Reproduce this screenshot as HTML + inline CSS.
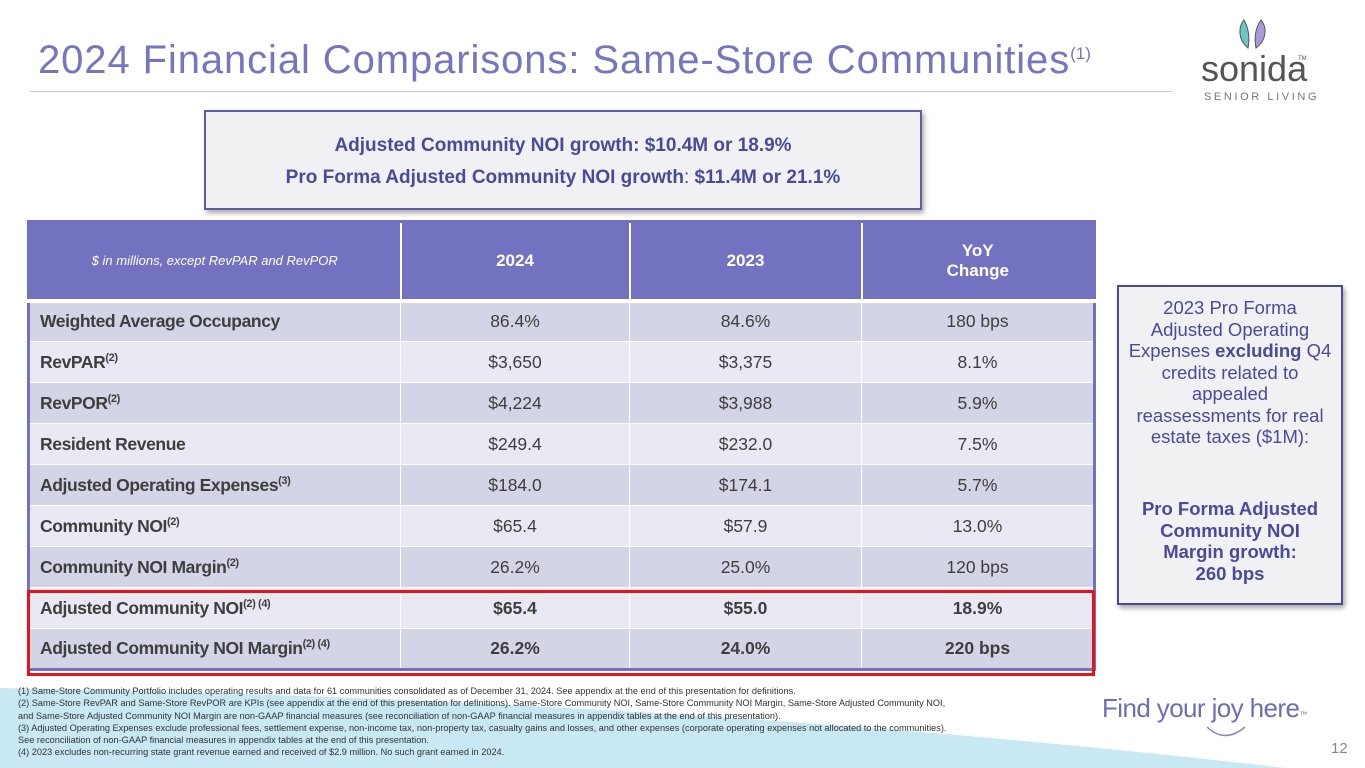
<!DOCTYPE html>
<html><head><meta charset="utf-8"><style>
*{margin:0;padding:0;box-sizing:border-box}
body{width:1365px;height:768px;position:relative;overflow:hidden;background:#fff;font-family:"Liberation Sans",sans-serif}
.abs{position:absolute}
#title{left:38px;top:38px;font-size:40px;color:#7575c2;white-space:nowrap;letter-spacing:0.9px}
#title sup{font-size:17px;vertical-align:14px;letter-spacing:0}
#rule{left:30px;top:91px;width:1142px;height:1px;background:#c8c8c8}
#topbox{left:204px;top:110px;width:718px;height:100px;background:#f1f1f4;border:2px solid #5c5cab;box-shadow:2px 3px 5px rgba(0,0,0,.35);text-align:center;color:#4a4a9a;font-weight:bold;font-size:19px;line-height:32px;padding-top:18px}
table{position:absolute;left:27px;top:220px;width:1069px;border-collapse:collapse;border:3px solid #7272c0}
td,th{height:41px;text-align:center;font-size:17.5px;color:#3e3e3e;border-right:1px solid #fff;border-bottom:1px solid #fff}
th{background:#7272c0;color:#fff;height:79px;font-size:17px;font-weight:bold;border-right:2px solid #fff;border-bottom:4px solid #fff}
th.note{font-weight:normal;font-style:italic;font-size:13px}
td.l{text-align:left;padding-left:10px;font-weight:bold;color:#3e3e3e;letter-spacing:-.4px}
td sup{font-size:11px}
tr.a td{background:#d4d4e7}tr.b td{background:#e9e9f3}
tr.bold td{font-weight:bold}
#red{left:27px;top:590px;width:1068px;height:86px;border:3.5px solid #e5141b}
#side{left:1117px;top:285px;width:226px;height:320px;background:#f1f1f4;border:2px solid #4a4a9a;box-shadow:2px 3px 5px rgba(0,0,0,.35);text-align:center;color:#4a4a9a;font-size:18.5px;line-height:21.5px;padding-top:10px}
#foot{left:18px;top:685px;font-size:9.2px;line-height:12.3px;color:#333;white-space:nowrap}
#tag{left:1102px;top:693px;font-size:26px;color:#6d6db8;white-space:nowrap;letter-spacing:-.6px}
#pg{left:1331px;top:740px;font-size:15px;color:#888}
</style></head><body>
<svg class="abs" style="left:0;top:0" width="1365" height="768"><path d="M0,688 Q700,700 1285,768 L0,768Z" fill="#c8e8f4"/></svg>
<div id="title" class="abs">2024 Financial Comparisons: Same-Store Communities<sup>(1)</sup></div>
<div id="rule" class="abs"></div>
<svg class="abs" style="left:1198px;top:15px" width="160" height="90">
<path d="M46,5 C40,12 40,25 50,33 C52,22 50,12 46,5Z" fill="#6cc6c4" stroke="#555" stroke-width="1"/>
<path d="M63,5 C69,12 69,25 58,33 C56,22 58,12 63,5Z" fill="#a79ad8" stroke="#555" stroke-width="1"/>
<text x="3" y="66" font-family="Liberation Sans" font-size="36" fill="#555">sonida</text>
<text x="100" y="45" font-size="6" fill="#555">TM</text>
<text x="6" y="85" font-family="Liberation Sans" font-size="11" fill="#777" letter-spacing="2.6">SENIOR LIVING</text>
</svg>
<div id="topbox" class="abs">Adjusted Community NOI growth: $10.4M or 18.9%<br>Pro Forma Adjusted Community NOI growth<span style="font-weight:normal">:</span> $11.4M or 21.1%</div>
<table>
<colgroup><col style="width:372px"><col style="width:229px"><col style="width:232px"><col></colgroup>
<tr><th class="note">$ in millions, except RevPAR and RevPOR</th><th>2024</th><th>2023</th><th style="border-right:none">YoY<br>Change</th></tr>
<tr class="a"><td class="l">Weighted Average Occupancy</td><td>86.4%</td><td>84.6%</td><td>180 bps</td></tr>
<tr class="b"><td class="l">RevPAR<sup>(2)</sup></td><td>$3,650</td><td>$3,375</td><td>8.1%</td></tr>
<tr class="a"><td class="l">RevPOR<sup>(2)</sup></td><td>$4,224</td><td>$3,988</td><td>5.9%</td></tr>
<tr class="b"><td class="l">Resident Revenue</td><td>$249.4</td><td>$232.0</td><td>7.5%</td></tr>
<tr class="a"><td class="l">Adjusted Operating Expenses<sup>(3)</sup></td><td>$184.0</td><td>$174.1</td><td>5.7%</td></tr>
<tr class="b"><td class="l">Community NOI<sup>(2)</sup></td><td>$65.4</td><td>$57.9</td><td>13.0%</td></tr>
<tr class="a"><td class="l">Community NOI Margin<sup>(2)</sup></td><td>26.2%</td><td>25.0%</td><td>120 bps</td></tr>
<tr class="b bold"><td class="l">Adjusted Community NOI<sup>(2) (4)</sup></td><td>$65.4</td><td>$55.0</td><td>18.9%</td></tr>
<tr class="a bold"><td class="l">Adjusted Community NOI Margin<sup>(2) (4)</sup></td><td>26.2%</td><td>24.0%</td><td>220 bps</td></tr>
</table>
<div id="red" class="abs"></div>
<div id="side" class="abs">2023 Pro Forma<br>Adjusted Operating<br>Expenses <b>excluding</b> Q4<br>credits related to<br>appealed<br>reassessments for real<br>estate taxes ($1M):<br><br><div style="height:29px"></div><b>Pro Forma Adjusted<br>Community NOI<br>Margin growth:<br>260 bps</b></div>
<div id="foot" class="abs">(1) Same-Store Community Portfolio includes operating results and data for 61 communities consolidated as of December 31, 2024. See appendix at the end of this presentation for definitions.<br>(2) Same-Store RevPAR and Same-Store RevPOR are KPIs (see appendix at the end of this presentation for definitions). Same-Store Community NOI, Same-Store Community NOI Margin, Same-Store Adjusted Community NOI,<br>and Same-Store Adjusted Community NOI Margin are non-GAAP financial measures (see reconciliation of non-GAAP financial measures in appendix tables at the end of this presentation).<br>(3) Adjusted Operating Expenses exclude professional fees, settlement expense, non-income tax, non-property tax, casualty gains and losses, and other expenses (corporate operating expenses not allocated to the communities).<br>See reconciliation of non-GAAP financial measures in appendix tables at the end of this presentation.<br>(4) 2023 excludes non-recurring state grant revenue earned and received of $2.9 million. No such grant earned in 2024.</div>
<div id="tag" class="abs">Find your joy here<span style="font-size:8px">™</span></div>
<svg class="abs" style="left:1200px;top:724px" width="60" height="20"><path d="M7,3 Q25,20 45,3" fill="none" stroke="#8a84c8" stroke-width="1.5"/></svg>
<div id="pg" class="abs">12</div>
</body></html>
